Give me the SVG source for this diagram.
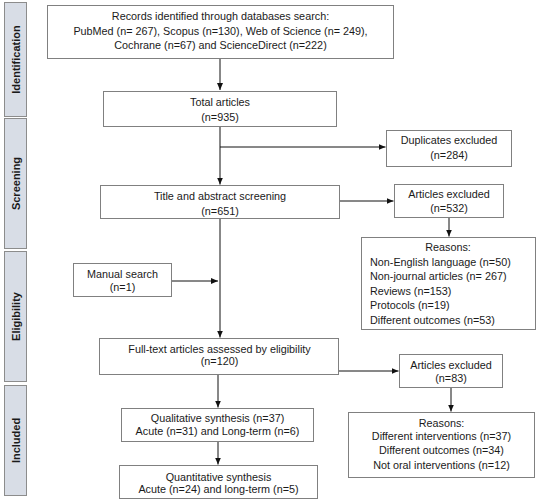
<svg xmlns="http://www.w3.org/2000/svg" width="550" height="501" viewBox="0 0 550 501">
<style>
.bg{fill:#ffffff}
.side{fill:#d8dde6;stroke:#8c8c8c;stroke-width:1}
.sidet{font-family:"Liberation Sans",Arial,sans-serif;font-size:11px;font-weight:bold;fill:#1a1a1a;text-anchor:middle}
.box{fill:#ffffff;stroke:#808080;stroke-width:1}
.t{font-family:"Liberation Sans",Arial,sans-serif;font-size:10.8px;fill:#1a1a1a;text-anchor:middle}
.l{font-family:"Liberation Sans",Arial,sans-serif;font-size:10.8px;fill:#1a1a1a}
.c{stroke:#111111;stroke-width:1;fill:none}
</style>
<defs>
<marker id="ah" markerUnits="userSpaceOnUse" markerWidth="8" markerHeight="8" refX="7" refY="3" orient="auto">
<path d="M0,0 L7,3 L0,6 Z" fill="#111111"/>
</marker>
</defs>
<rect class="bg" x="0" y="0" width="550" height="501"/>
<g id="phases">
<g id="phase-identification"><rect class="side" x="4.5" y="2.5" width="22" height="114"/><text class="sidet" transform="translate(19.5,59.5) rotate(-90)">Identification</text></g>
<g id="phase-screening"><rect class="side" x="4.5" y="118.5" width="22" height="130"/><text class="sidet" transform="translate(19.5,183.5) rotate(-90)">Screening</text></g>
<g id="phase-eligibility"><rect class="side" x="4.5" y="251.5" width="22" height="130"/><text class="sidet" transform="translate(19.5,316.5) rotate(-90)">Eligibility</text></g>
<g id="phase-included"><rect class="side" x="4.5" y="385.5" width="22" height="110"/><text class="sidet" transform="translate(19.5,440.5) rotate(-90)">Included</text></g>
</g>
<g id="connectors">
<line class="c" x1="220" y1="58" x2="220" y2="90" marker-end="url(#ah)"/>
<line class="c" x1="220" y1="126" x2="220" y2="184.5" marker-end="url(#ah)"/>
<line class="c" x1="220" y1="147" x2="385.5" y2="147" marker-end="url(#ah)"/>
<line class="c" x1="340" y1="201" x2="393.5" y2="201" marker-end="url(#ah)"/>
<line class="c" x1="449" y1="217" x2="449" y2="236.5" marker-end="url(#ah)"/>
<line class="c" x1="220" y1="218" x2="220" y2="337.5" marker-end="url(#ah)"/>
<line class="c" x1="172" y1="281" x2="218" y2="281" marker-end="url(#ah)"/>
<line class="c" x1="339" y1="371" x2="398.5" y2="371" marker-end="url(#ah)"/>
<line class="c" x1="451" y1="387" x2="451" y2="411.5" marker-end="url(#ah)"/>
<line class="c" x1="218" y1="375" x2="218" y2="407.5" marker-end="url(#ah)"/>
<line class="c" x1="218" y1="441" x2="218" y2="464.5" marker-end="url(#ah)"/>
</g>
<g id="records"><rect class="box" x="47.5" y="5.5" width="346" height="53"/>
<text class="t" x="220.5" y="20">Records identified through databases search:</text>
<text class="t" x="220.5" y="35">PubMed (n= 267), Scopus (n=130), Web of Science (n= 249),</text>
<text class="t" x="220.5" y="49">Cochrane (n=67) and ScienceDirect (n=222)</text></g>
<g id="total"><rect class="box" x="103.5" y="91.5" width="233" height="35"/>
<text class="t" x="220" y="106">Total articles</text><text class="t" x="220" y="121">(n=935)</text></g>
<g id="duplicates"><rect class="box" x="386.5" y="130.5" width="125" height="36"/>
<text class="t" x="449" y="144">Duplicates excluded</text><text class="t" x="449" y="159">(n=284)</text></g>
<g id="title-screening"><rect class="box" x="100.5" y="185.5" width="239" height="33"/>
<text class="t" x="220" y="200">Title and abstract screening</text><text class="t" x="220" y="215">(n=651)</text></g>
<g id="excluded1"><rect class="box" x="394.5" y="184.5" width="109" height="33"/>
<text class="t" x="449" y="198">Articles excluded</text><text class="t" x="449" y="212">(n=532)</text></g>
<g id="reasons1"><rect class="box" x="361.5" y="237.5" width="174" height="92"/>
<text class="t" x="448" y="251">Reasons:</text>
<text class="l" x="370" y="266">Non-English language (n=50)</text>
<text class="l" x="370" y="280">Non-journal articles (n= 267)</text>
<text class="l" x="370" y="295">Reviews (n=153)</text>
<text class="l" x="370" y="309">Protocols (n=19)</text>
<text class="l" x="370" y="324">Different outcomes (n=53)</text></g>
<g id="manual"><rect class="box" x="73.5" y="263.5" width="98" height="33"/>
<text class="t" x="122.5" y="278">Manual search</text><text class="t" x="122.5" y="291">(n=1)</text></g>
<g id="fulltext"><rect class="box" x="99.5" y="338.5" width="239" height="36"/>
<text class="t" x="219.5" y="353">Full-text articles assessed by eligibility</text><text class="t" x="219.5" y="365">(n=120)</text></g>
<g id="excluded2"><rect class="box" x="399.5" y="354.5" width="103" height="33"/>
<text class="t" x="451" y="369">Articles excluded</text><text class="t" x="451" y="382">(n=83)</text></g>
<g id="reasons2"><rect class="box" x="348.5" y="412.5" width="186" height="65"/>
<text class="t" x="441.5" y="427">Reasons:</text>
<text class="t" x="441.5" y="440">Different interventions (n=37)</text>
<text class="t" x="441.5" y="454">Different outcomes (n=34)</text>
<text class="t" x="441.5" y="469">Not oral interventions (n=12)</text></g>
<g id="qualitative"><rect class="box" x="121.5" y="408.5" width="192" height="33"/>
<text class="t" x="217.5" y="422">Qualitative synthesis (n=37)</text><text class="t" x="217.5" y="435">Acute (n=31) and Long-term (n=6)</text></g>
<g id="quantitative"><rect class="box" x="119.5" y="465.5" width="198" height="33"/>
<text class="t" x="218.5" y="481">Quantitative synthesis</text><text class="t" x="218.5" y="493">Acute (n=24) and long-term (n=5)</text></g>
</svg>
